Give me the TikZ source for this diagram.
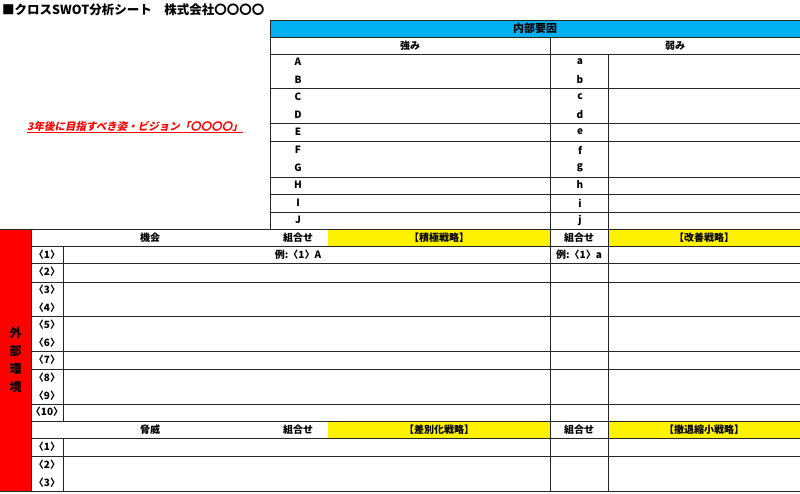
\documentclass[tikz,border=0pt]{standalone}
\usepackage{fontspec}
\newfontfamily\jp{Noto Sans CJK JP}
\newfontfamily\jpsl[FakeSlant=0.2]{Noto Sans CJK JP}
\begin{document}
\begin{tikzpicture}[x=1pt,y=-1pt,
  lbl/.style={font=\jp\bfseries\fontsize{10}{11}\selectfont,inner sep=0pt},
  grid/.style={line width=0.7pt,black!85}]
\useasboundingbox (0,0) rectangle (800,493);
\fill[white] (0,0) rectangle (800,493);
% title
\node[lbl,anchor=west,font=\jp\bfseries\fontsize{12.5}{13}\selectfont] (title) at (2,10) {■クロスSWOT分析シート　株式会社〇〇〇〇};
% top section
\fill[fill={rgb,255:red,0;green,176;blue,240}] (270,20) rectangle (800,37);
\node[lbl,font=\jp\bfseries\fontsize{11}{12}\selectfont] (naibu) at (535,28.5) {内部要因};
\node[lbl] (tsuyomi) at (410,45.5) {強み};
\node[lbl] (yowami) at (675,45.5) {弱み};
\draw[grid] (270,20) -- (800,20);
\foreach \y in {37,54,88,123,141,177,194,212} \draw[grid] (270,\y) -- (800,\y);
\draw[grid] (270,20) -- (270,229);
\draw[grid] (550,37) -- (550,229);
\draw[grid] (608,54) -- (608,229);
\foreach \t/\l/\y in {A/a/62,B/b/80,C/c/97,D/d/115,E/e/132,F/f/150,G/g/168,H/h/185,I/i/203,J/j/220}{
  \node[lbl] at (298,\y) {\t};
  \node[lbl] at (580,\y) {\l};
}
\node[lbl,text=red,font=\jpsl\bfseries\fontsize{10.5}{11}\selectfont] (vision) at (135,127) {\underline{3年後に目指すべき姿・ビジョン「〇〇〇〇」}};
% bottom section
\fill[red] (0,229) rectangle (31,491);
\node[lbl,align=center,font=\jp\bfseries\fontsize{12}{18}\selectfont] (gaibu) at (15.5,360) {外\\部\\環\\境};
\fill[yellow] (328,230) rectangle (550,246);
\fill[yellow] (608,230) rectangle (800,246);
\fill[yellow] (328,422) rectangle (550,438);
\fill[yellow] (608,422) rectangle (800,438);
\foreach \y in {229,246,263,282,316,351,369,404,421,438,456,491} \draw[grid] (31,\y) -- (800,\y);
\draw[grid] (0,229) -- (31,229) (0,491) -- (31,491) (31,229) -- (31,491);
\draw[grid] (63,246) -- (63,421) (63,438) -- (63,491);
\draw[grid] (550,229) -- (550,491);
\draw[grid] (608,229) -- (608,491);
\node[lbl] (kikai) at (150,237.5) {機会};
\node[lbl] (kumi1) at (298,237.5) {組合せ};
\node[lbl] (sekkyoku) at (439,237.5) {【積極戦略】};
\node[lbl] (kumi2) at (579,237.5) {組合せ};
\node[lbl] (kaizen) at (704,237.5) {【改善戦略】};
\node[lbl] (rei1) at (298,255) {例:〈1〉A};
\node[lbl] (rei2) at (579,255) {例:〈1〉a};
\foreach \n/\y in {1/255,2/272,3/290,4/308,5/325,6/343,7/360,8/378,9/396,10/412}
  \node[lbl] at (47,\y) {〈\n〉};
\node[lbl] (kyoui) at (150,429.5) {脅威};
\node[lbl] (kumi3) at (298,429.5) {組合せ};
\node[lbl] (sabetsu) at (439,429.5) {【差別化戦略】};
\node[lbl] (kumi4) at (579,429.5) {組合せ};
\node[lbl] (tettai) at (704,429.5) {【撤退縮小戦略】};
\foreach \n/\y in {1/447,2/465,3/483}
  \node[lbl] at (47,\y) {〈\n〉};
\end{tikzpicture}
\end{document}
